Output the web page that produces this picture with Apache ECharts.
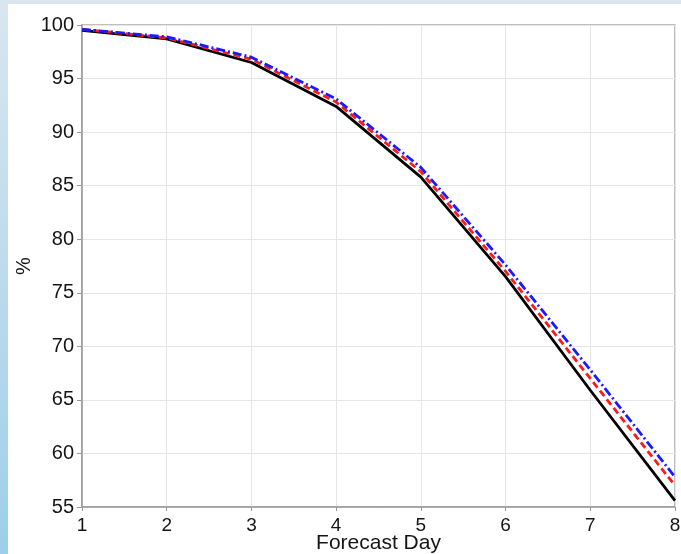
<!DOCTYPE html>
<html>
<head>
<meta charset="utf-8">
<script src="https://cdn.jsdelivr.net/npm/echarts@6/dist/echarts.min.js"></script>
<style>
html,body{margin:0;padding:0;background:#fff;}
#chart{width:681px;height:554px;}
</style>
</head>
<body>
<div id="chart"></div>
<script>
const days = [1, 2, 3, 4, 5, 6, 7, 8];
const blackSeries = [99.5, 98.7, 96.5, 92.4, 85.8, 76.5, 65.9, 55.6];
const redSeries   = [99.6, 98.8, 96.8, 92.8, 86.3, 77.0, 67.0, 57.0];
const blueSeries  = [99.6, 98.9, 97.0, 93.1, 86.7, 77.6, 67.8, 57.8];
const xTitle = 'Forecast Day';
const yTitle = '%';

const pairs = arr => days.map((d, i) => [d, arr[i]]);
const chart = echarts.init(document.getElementById('chart'), null, {renderer: 'canvas'});
const font = 'Liberation Sans, Arial, sans-serif';
const txt = '#151515';
chart.setOption({
  animation: false,
  backgroundColor: '#ffffff',
  graphic: [
    {type: 'rect', z: -10, left: 0, top: 0, shape: {width: 681, height: 554},
     style: {fill: new echarts.graphic.LinearGradient(0, 0, 0, 1, [
       {offset: 0, color: '#d9e6ef'}, {offset: 0.5, color: '#bcdbec'}, {offset: 1, color: '#9dcfea'}])}},
    {type: 'rect', z: -9, left: 8, top: 4, shape: {width: 673, height: 550}, style: {fill: '#ffffff'}}
  ],
  grid: {left: 82, right: 6, top: 25, bottom: 47, containLabel: false, outerBoundsMode: 'none',
         show: true, borderColor: '#aaaaaa', borderWidth: 1.5, backgroundColor: 'transparent'},
  xAxis: {
    type: 'value', min: 1, max: 8, interval: 1,
    name: xTitle, nameLocation: 'middle', nameGap: 26, nameMoveOverlap: false,
    nameTextStyle: {fontFamily: font, fontSize: 21, color: txt},
    axisLine: {show: true, lineStyle: {color: '#999', width: 1.5}},
    axisTick: {show: true, length: 4, lineStyle: {color: '#999'}},
    axisLabel: {fontFamily: font, fontSize: 19, color: txt, margin: 9},
    splitLine: {show: true, lineStyle: {color: '#e6e6e6', width: 1}}
  },
  yAxis: {
    type: 'value', min: 55, max: 100, interval: 5,
    name: yTitle, nameLocation: 'middle', nameGap: 48, nameRotate: 90, nameMoveOverlap: false,
    nameTextStyle: {fontFamily: font, fontSize: 20, color: txt},
    axisLine: {show: true, lineStyle: {color: '#999', width: 1.5}},
    axisTick: {show: true, length: 5, lineStyle: {color: '#999'}},
    axisLabel: {fontFamily: font, fontSize: 20, color: txt, margin: 8},
    splitLine: {show: true, lineStyle: {color: '#e6e6e6', width: 1}}
  },
  series: [
    {type: 'line', data: pairs(blackSeries), symbol: 'none', z: 3,
     lineStyle: {color: '#000000', width: 2.8, type: 'solid'}},
    {type: 'line', data: pairs(redSeries), symbol: 'none', z: 4,
     lineStyle: {color: '#ff1a1a', width: 2.8, type: [7, 4]}},
    {type: 'line', data: pairs(blueSeries), symbol: 'none', z: 5,
     lineStyle: {color: '#1a1aff', width: 2.8, type: [9, 3, 2, 3]}}
  ]
});
</script>
</body>
</html>
